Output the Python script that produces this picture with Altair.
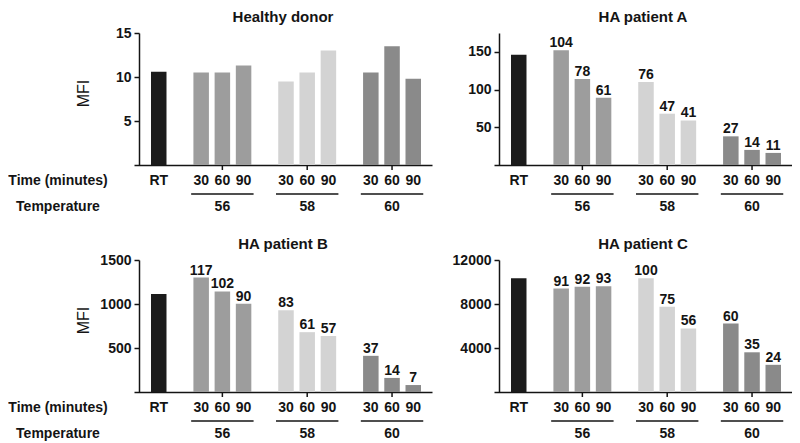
import altair as alt
import pandas as pd

FONT = "Liberation Sans"
INK = "#141414"

panel_titles = ["Healthy donor", "HA patient A", "HA patient B", "HA patient C"]
conditions = ["RT", "56|30", "56|60", "56|90", "58|30", "58|60", "58|90", "60|30", "60|60", "60|90"]
condition_groups = ["RT", "56", "56", "56", "58", "58", "58", "60", "60", "60"]
temperatures = ["56", "58", "60"]
times = ["30", "60", "90"]

healthy_mfi = [10.6, 10.5, 10.5, 11.3, 9.5, 10.5, 13.0, 10.5, 13.5, 9.8]
patient_a_mfi = [146, 152, 114, 89, 110, 68, 59, 38, 20, 16]
patient_b_mfi = [1114, 1301, 1143, 1002, 930, 680, 635, 411, 160, 79]
patient_c_mfi = [10330, 9400, 9560, 9620, 10330, 7740, 5780, 6220, 3610, 2470]

healthy_pct = ["", "", "", "", "", "", "", "", "", ""]
patient_a_pct = ["", "104", "78", "61", "76", "47", "41", "27", "14", "11"]
patient_b_pct = ["", "117", "102", "90", "83", "61", "57", "37", "14", "7"]
patient_c_pct = ["", "91", "92", "93", "100", "75", "56", "60", "35", "24"]

y_max = [15, 175, 1500, 12000]
y_ticks = [[5, 10, 15], [50, 100, 150], [500, 1000, 1500], [4000, 8000, 12000]]

group_names = ["RT", "56", "58", "60"]
group_colors = ["#1b1b1b", "#9d9d9d", "#d3d3d3", "#8a8a8a"]

# band-scale domain with an empty slot before each temperature group
slot_domain = ["RT"]
for t in temperatures:
    slot_domain += [f"gap{t}"] + [f"{t}|{m}" for m in times]

W, H = 298, 132

LABEL_EXPR = ("datum.value == 'RT' ? 'RT' : "
              "(indexof(datum.value, '|') > 0 ? split(datum.value, '|')[1] : '')")


def panel(title, mfi, pct, ymax, ticks, is_left):
    df = pd.DataFrame({"condition": conditions, "group": condition_groups,
                       "mfi": mfi, "pct": pct})
    gdf = pd.DataFrame({
        "temp": temperatures,
        "first": [f"{t}|{times[0]}" for t in temperatures],
        "mid": [f"{t}|{times[1]}" for t in temperatures],
        "last": [f"{t}|{times[-1]}" for t in temperatures],
    })
    xs = alt.Scale(domain=slot_domain, paddingInner=0.269, paddingOuter=0.66, align=0.607)
    ys = alt.Scale(domain=[0, ymax], nice=False, zero=True)
    no_title = alt.Axis(title=None)

    y_kw = dict(values=ticks, format="d", grid=False, offset=-5, ticks=True, tickSize=5,
                tickWidth=1.5, tickColor=INK, domainColor=INK, domainWidth=1.5,
                labelFont=FONT, labelFontSize=14, labelFontWeight="bold",
                labelColor=INK, labelPadding=3)
    if is_left:
        y_kw.update(title="MFI", titleFont=FONT, titleFontSize=16, titleFontWeight="normal",
                    titleColor=INK, titleX=-56, titleY=H / 2 - 6, titleAngle=270,
                    titleAlign="center", titleBaseline="middle")
    else:
        y_kw.update(title=None)

    x_axis = alt.Axis(title=None, ticks=False, tickSize=0, labelAngle=0, labelExpr=LABEL_EXPR,
                      labelFont=FONT, labelFontSize=14, labelFontWeight="bold",
                      labelColor=INK, labelPadding=8, domainColor=INK, domainWidth=1.5,
                      labelOverlap=False)

    bars = alt.Chart(df).mark_bar().encode(
        x=alt.X("condition:N", scale=xs, axis=x_axis),
        y=alt.Y("mfi:Q", scale=ys, axis=alt.Axis(**y_kw)),
        color=alt.Color("group:N", scale=alt.Scale(domain=group_names, range=group_colors),
                        legend=None),
    )
    pct_text = alt.Chart(df).mark_text(
        dy=-3, baseline="alphabetic", font=FONT, fontSize=14, fontWeight="bold", color=INK
    ).encode(
        x=alt.X("condition:N", scale=xs),
        y=alt.Y("mfi:Q", scale=ys),
        text="pct:N",
    )
    group_ticks = alt.Chart(gdf).mark_rule(strokeWidth=1.5, color=INK).encode(
        x=alt.X("mid:N", scale=xs, axis=no_title),
        y=alt.value(H), y2=alt.value(H + 5),
    )
    underline = alt.Chart(gdf).mark_rule(strokeWidth=1.5, color=INK, xOffset=-10, x2Offset=10).encode(
        x=alt.X("first:N", scale=xs, axis=no_title),
        x2="last:N",
        y=alt.value(H + 29),
    )
    temp_text = alt.Chart(gdf).mark_text(
        font=FONT, fontSize=14, fontWeight="bold", color=INK, baseline="middle"
    ).encode(
        x=alt.X("mid:N", scale=xs, axis=no_title),
        y=alt.value(H + 42),
        text="temp:N",
    )
    title_text = alt.Chart(pd.DataFrame({"t": [title]})).mark_text(
        font=FONT, fontSize=15, fontWeight="bold", color=INK, baseline="top"
    ).encode(x=alt.value(W / 2), y=alt.value(-23), text="t:N")

    layers = [bars, pct_text, group_ticks, underline, temp_text, title_text]
    if is_left:
        time_lbl = alt.Chart(pd.DataFrame({"t": ["Time (minutes)"]})).mark_text(
            font=FONT, fontSize=14, fontWeight="bold", color=INK, baseline="middle"
        ).encode(x=alt.value(-76), y=alt.value(H + 15.5), text="t:N")
        temp_lbl = alt.Chart(pd.DataFrame({"t": ["Temperature"]})).mark_text(
            font=FONT, fontSize=14, fontWeight="bold", color=INK, baseline="middle"
        ).encode(x=alt.value(-76), y=alt.value(H + 42), text="t:N")
        layers += [time_lbl, temp_lbl]
    return alt.layer(*layers).properties(width=W, height=H)


p1 = panel(panel_titles[0], healthy_mfi, healthy_pct, y_max[0], y_ticks[0], True)
p2 = panel(panel_titles[1], patient_a_mfi, patient_a_pct, y_max[1], y_ticks[1], False)
p3 = panel(panel_titles[2], patient_b_mfi, patient_b_pct, y_max[2], y_ticks[2], True)
p4 = panel(panel_titles[3], patient_c_mfi, patient_c_pct, y_max[3], y_ticks[3], False)

chart = alt.concat(p1, p2, p3, p4, columns=2, spacing={"row": 95, "column": 62},
                   bounds="flush").properties(
    padding={"top": 2, "left": 0, "right": 0, "bottom": 0}
).configure_view(stroke=None)

chart.save("out.html", embed_options={"renderer": "svg", "actions": False})
